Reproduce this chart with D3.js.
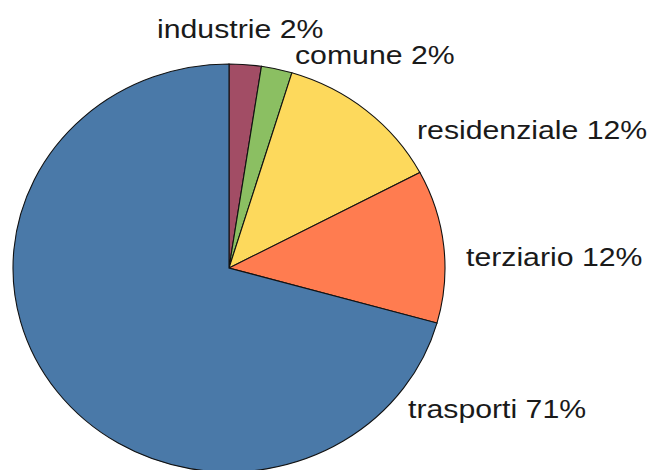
<!DOCTYPE html>
<html><head><meta charset="utf-8">
<script src="https://cdn.jsdelivr.net/npm/d3@7"></script>
<style>html,body{margin:0;padding:0;background:#fff;}</style>
</head><body>
<svg id="chart" width="653" height="470"></svg>
<script>
const categories = ["industrie", "comune", "residenziale", "terziario", "trasporti"];
const values = [2.4, 2.3, 12.55, 12.1, 70.65];
const labels = ["industrie 2%", "comune 2%", "residenziale 12%", "terziario 12%", "trasporti 71%"];
const colors = ["#a24d65", "#8bbf62", "#fdd95c", "#ff7c50", "#4a79a8"];
// label layout (left x, baseline y)
const labelPos = [[157, 38], [295, 64], [417, 139], [466, 266], [408, 418]];

const svg = d3.select("#chart");
const cx = 229, cy = 268, rx = 216, ry = 204;
const pie = d3.pie().sort(null).value(d => d)(values);
const arc = d3.arc().innerRadius(0).outerRadius(rx);
const g = svg.append("g").attr("transform", `translate(${cx},${cy}) scale(1,${ry/rx})`);
g.selectAll("path").data(pie).join("path")
  .attr("d", arc)
  .attr("fill", (d, i) => colors[i])
  .attr("stroke", "#111")
  .attr("stroke-width", 1.1)
  .attr("vector-effect", "non-scaling-stroke");

svg.selectAll("text.lbl").data(labels).join("text")
  .attr("class", "lbl")
  .attr("transform", (d, i) => `translate(${labelPos[i][0]},${labelPos[i][1]}) scale(1.21,1)`)
  .attr("font-family", "Liberation Sans, Arial, sans-serif")
  .attr("font-size", 25)
  .attr("fill", "#1a1a1a")
  .text(d => d);
</script>
</body></html>
